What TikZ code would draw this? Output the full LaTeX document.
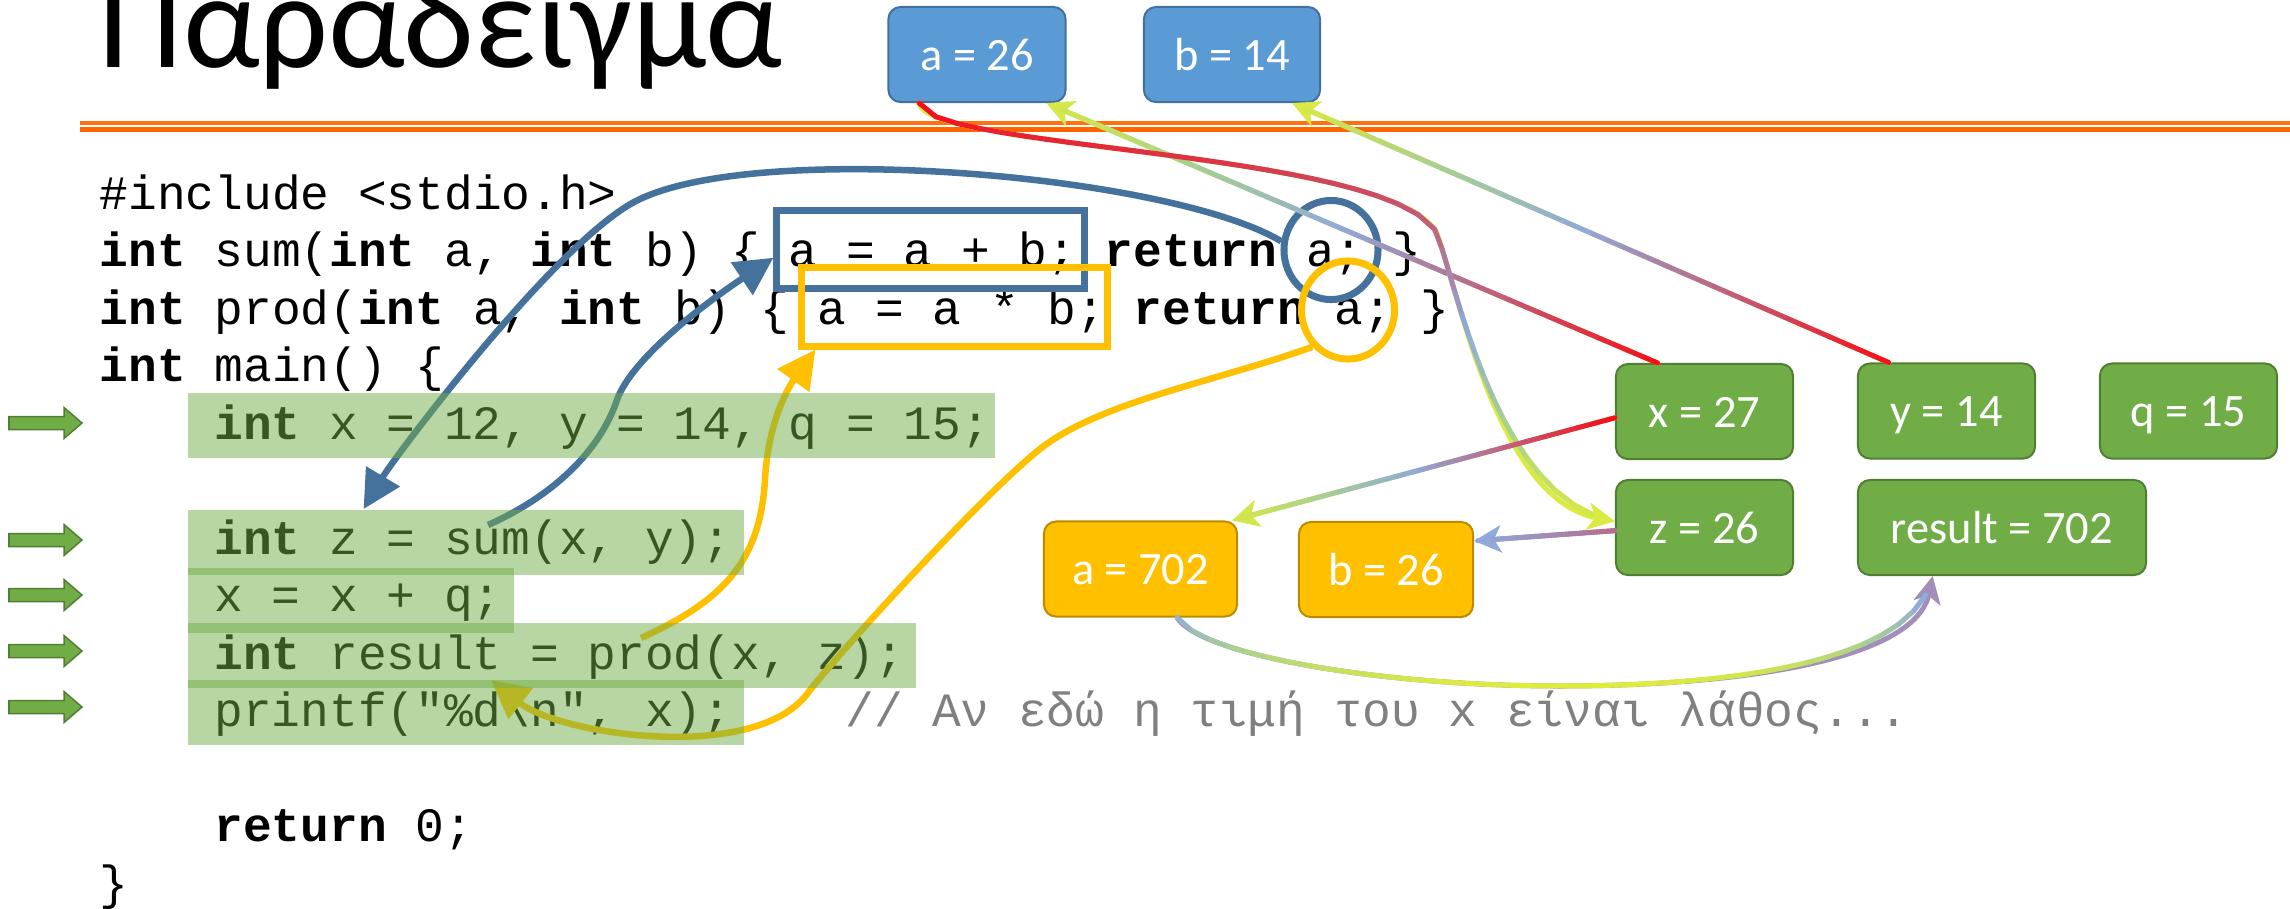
\documentclass[tikz,border=0pt]{standalone}
\usepackage{fontspec}
\usetikzlibrary{arrows.meta,shapes.geometric,decorations.markings}
\newfontfamily\codefamily{Liberation Mono}
\newfontfamily\boxfamily{Carlito}
\newcommand{\srcfont}{\codefamily\fontsize{13.61}{16}\selectfont}
\newcommand{\lblfont}{\boxfamily\fontsize{13.2}{15}\selectfont}
\newcommand{\ttlfont}{\boxfamily\fontsize{38.5}{40}\selectfont}

\definecolor{boxblue}{RGB}{91,155,213}
\definecolor{boxblueline}{RGB}{65,113,156}
\definecolor{boxgreen}{RGB}{112,173,71}
\definecolor{boxgreenline}{RGB}{80,126,50}
\definecolor{boxyellow}{RGB}{255,192,0}
\definecolor{boxyellowline}{RGB}{188,140,0}
\definecolor{markblue}{RGB}{68,114,157}
\definecolor{ruletop}{RGB}{255,112,16}
\definecolor{rulebot}{RGB}{255,100,0}
\definecolor{cmtgray}{RGB}{128,128,128}
\definecolor{gRed}{RGB}{245,15,25}
\definecolor{gBlue}{RGB}{143,170,220}
\definecolor{gGreen}{RGB}{169,209,142}
\definecolor{gYellow}{RGB}{222,236,58}

\pgfdeclarelayer{front}
\pgfsetlayers{main,front}

%colour of the gradient at point g#1, red at y=#2, yellow at y=#3 (px)
\newcommand{\gradcol}[3]{%
  \path (g#1); \pgfgetlastxy{\gx}{\gy}%
  \pgfmathsetmacro{\gt}{max(0,min(1,(-1*(\gy)/0.284528-#2)/(#3-#2)))}%
  \pgfmathtruncatemacro{\gp}{100*\gt}%
  \ifnum\gp<50 \pgfmathtruncatemacro{\gm}{2*\gp}\colorlet{segc}{gBlue!\gm!gRed}%
  \else\ifnum\gp<75 \pgfmathtruncatemacro{\gm}{4*(\gp-50)}\colorlet{segc}{gGreen!\gm!gBlue}%
  \else\pgfmathtruncatemacro{\gm}{4*(\gp-75)}\colorlet{segc}{gYellow!\gm!gGreen}\fi\fi}

%gradient connector along path #1
\newcommand{\gradarrow}[3]{%
  \path[decorate,decoration={markings,mark=between positions 0 and 0.98 step 0.025 with
    {\coordinate (g\pgfkeysvalueof{/pgf/decoration/mark info/sequence number});}}] #1;
  \gradcol{40}{#2}{#3}
  \draw[thinline,segc,-{Stealth[length=0.27cm,width=0.27cm,inset=0.07cm]}] #1;
  \foreach \i in {1,...,39}{
    \pgfmathtruncatemacro{\j}{\i+1}
    \gradcol{\i}{#2}{#3}
    \draw[thinline,segc] (g\i) -- (g\j);
  }}

\begin{document}
\frenchspacing
\begin{tikzpicture}[x=0.01cm,y=-0.01cm,
  varbox/.style={rounded corners=0.12cm,line width=0.02cm,text=white,font=\lblfont,
    minimum width=1.77cm,minimum height=0.95cm,text height=0.4cm,text depth=0.09cm,inner sep=0},
  bluebox/.style={varbox,fill=boxblue,draw=boxblueline},
  greenbox/.style={varbox,fill=boxgreen,draw=boxgreenline},
  yellowbox/.style={varbox,fill=boxyellow,draw=boxyellowline},
  srcline/.style={anchor=base west,inner sep=0,font=\srcfont},
  hl/.style={fill=boxgreen,fill opacity=0.5,inner sep=0,anchor=north west,minimum height=0.65cm},
  sumbox/.style={draw=markblue,line width=0.07cm,inner sep=0},
  prodbox/.style={draw=boxyellow,line width=0.07cm,inner sep=0},
  sumline/.style={draw=markblue,line width=0.065cm,-{Triangle[length=0.38cm,width=0.38cm]}},
  prodline/.style={draw=boxyellow,line width=0.065cm,-{Triangle[length=0.38cm,width=0.38cm]}},
  thinline/.style={line width=0.05cm,line cap=round}]
\clip (0,0) rectangle (2290,908);

%title and rule
\node[anchor=base west,inner sep=0,font=\ttlfont] (title) at (98,67) {Παραδειγμα};
\draw[ruletop,line width=0.04cm] (80,123) -- (2290,123);
\draw[rulebot,line width=0.045cm] (80,129.5) -- (2290,129.5);

%the program
\node[srcline] (inc) at (99,209) {\#include <stdio.h>};
\node[srcline] (sumdef) at (99,266.5) {\textbf{int} sum(\textbf{int} a, \textbf{int} b) \{ a = a + b; \textbf{return} a; \}};
\node[srcline] (proddef) at (99,324) {\textbf{int} prod(\textbf{int} a, \textbf{int} b) \{ a = a * b; \textbf{return} a; \}};
\node[srcline] (maindef) at (99,381.5) {\textbf{int} main() \{};
\node[srcline] (declx) at (213.8,439) {\textbf{int} x = 12, y = 14, q = 15;};
\node[srcline] (callsum) at (213.8,554) {\textbf{int} z = sum(x, y);};
\node[srcline] (addq) at (213.8,611.5) {x = x + q;};
\node[srcline] (callprod) at (213.8,669) {\textbf{int} result = prod(x, z);};
\node[srcline] (prt) at (213.8,726.5) {printf("\%d\textbackslash n", x);};
\node[srcline,text=cmtgray] (cmt) at (845.2,726.5) {// Αν εδώ η τιμή του x είναι λάθος...};
\node[srcline] (ret) at (213.8,841.5) {\textbf{return} 0;};
\node[srcline] (close) at (99,899) {\}};

%executed lines
\begin{pgfonlayer}{front}
\node[hl,minimum width=8.07cm] (hlx) at (187,392) {};
\node[hl,minimum width=5.56cm] (hlz) at (187,509) {};
\node[hl,minimum width=3.26cm] (hlq) at (187,567) {};
\node[hl,minimum width=7.28cm] (hlres) at (187,622) {};
\node[hl,minimum width=5.56cm] (hlprt) at (187,679) {};
\end{pgfonlayer}

\foreach \y in {423,540,595,651,707}{
	\filldraw[fill=boxgreen,draw=boxgreenline,line width=0.015cm] (9,\y-6.5) -- (64,\y-6.5) -- (64,\y-15.5) -- (82,\y) -- (64,\y+15.5) -- (64,\y+6.5) -- (9,\y+6.5) -- cycle;
}

%call of sum
\coordinate (sumcall) at (488,525);
\node[sumbox,minimum width=3.07cm,minimum height=0.77cm] (sumbody) at (930.5,249.5) {};
\node[sumbox,ellipse,minimum width=0.94cm,minimum height=0.99cm] (sumret) at (1331,250) {};
\draw[sumline] (sumcall) .. controls (555,495) and (600,450) .. (617,400) .. controls (632,357) and (710,300) .. (sumbody.183);
\draw[sumline] (sumret.170) .. controls (1170,175) and (760,140) .. (638,200) .. controls (558,239) and (394,458) .. (hlz.162);

%call of prod
\coordinate (prodcall) at (641,638);
\coordinate (resvar) at (491,680);
\node[prodbox,minimum width=3.05cm,minimum height=0.78cm] (prodbody) at (954.5,307) {};
\node[prodbox,ellipse,minimum width=0.93cm,minimum height=0.98cm] (prodret) at (1348,310) {};
\draw[prodline] (prodcall) .. controls (725,600) and (760,560) .. (765,480) .. controls (768,420) and (790,385) .. (prodbody.197);
\draw[prodline] (prodret.226) .. controls (1220,380) and (1110,400) .. (1048,443) .. controls (1000,476) and (850,640) .. (810,690) .. controls (760,765) and (560,735) .. (resvar);

%variables
\node[bluebox] (a26) at (977,54.5) {a = 26};
\node[bluebox,minimum width=1.76cm] (b14) at (1232,54.5) {b = 14};
\node[greenbox] (x27) at (1704.5,411.5) {x = 27};
\node[greenbox] (y14) at (1946.5,411) {y = 14};
\node[greenbox] (q15) at (2188.5,411) {q = 15};
\node[greenbox] (z26) at (1704.5,527.5) {z = 26};
\node[greenbox,minimum width=2.88cm] (res) at (2002,527.5) {result = 702};
\node[yellowbox,minimum width=1.93cm] (a702) at (1140.5,569) {a = 702};
\node[yellowbox,minimum width=1.74cm] (b26) at (1386,569.5) {b = 26};

%values passed in and out
\gradarrow{(x27.134) -- (a26.325)}{365}{100}
\gradarrow{(y14.140) -- (b14.321)}{365}{102}
\gradarrow{(a26.220) .. controls (925,150) and (1390,150) .. (1437,233) .. controls (1460,300) and (1500,500) .. (z26.176)}{107}{522}
\gradarrow{(x27.184) -- (a702.28)}{418}{522}
\gradarrow{(z26.182) -- (b26.18)}{516}{564}
\gradarrow{(a702.307) .. controls (1200,655) and (1380,686) .. (1560,686) .. controls (1740,686) and (1915,660) .. (res.215)}{532}{684}
\end{tikzpicture}
\end{document}
